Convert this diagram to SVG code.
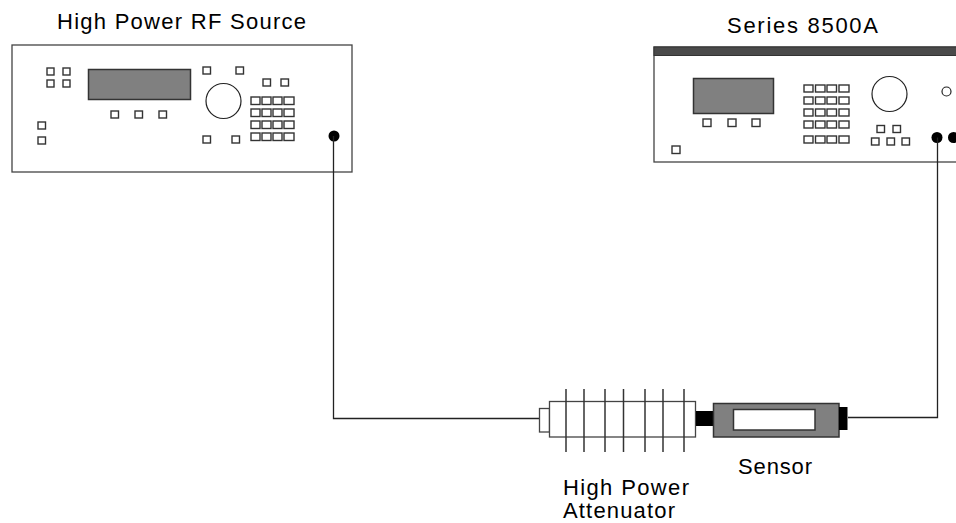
<svg xmlns="http://www.w3.org/2000/svg" width="956" height="523" viewBox="0 0 956 523">
<style>
.box{fill:#fff;stroke:#444;stroke-width:1.3}
.btn{fill:#fff;stroke:#333;stroke-width:1.4}
.scr{fill:#808080;stroke:#333;stroke-width:1.5}
.knob{fill:#fff;stroke:#222;stroke-width:1.2}
.dot{fill:#000}
.lbl{font-family:"Liberation Sans",Arial,sans-serif;font-size:22px;fill:#000}
.wire{fill:none;stroke:#222;stroke-width:1.3}
.fin{stroke:#333;stroke-width:1.5}
</style>
<g id="rf-source">
<text class="lbl" x="57" y="29" textLength="249" lengthAdjust="spacing">High Power RF Source</text>
<rect class="box" x="12" y="45" width="340" height="127"/>
<rect class="scr" x="88.5" y="69.5" width="102" height="30"/>
<rect class="btn" x="47" y="68" width="7" height="7"/><rect class="btn" x="63" y="68" width="7" height="7"/>
<rect class="btn" x="47" y="80" width="7" height="7"/><rect class="btn" x="63" y="80" width="7" height="7"/>
<rect class="btn" x="111" y="111" width="7.5" height="7"/><rect class="btn" x="135" y="111" width="7.5" height="7"/><rect class="btn" x="159" y="111" width="7.5" height="7"/>
<rect class="btn" x="38" y="122" width="7.5" height="7"/><rect class="btn" x="38" y="137" width="7.5" height="7"/>
<rect class="btn" x="203" y="67" width="7.5" height="7"/><rect class="btn" x="236" y="67" width="7.5" height="7"/>
<rect class="btn" x="203" y="136" width="7.5" height="7"/><rect class="btn" x="232" y="136" width="7.5" height="7"/>
<rect class="btn" x="263" y="79" width="7.5" height="7"/><rect class="btn" x="281" y="79" width="7.5" height="7"/>
<circle class="knob" cx="223.5" cy="101" r="17.5"/>
<g>
<rect class="btn" x="251" y="97" width="9" height="7.5"/><rect class="btn" x="262" y="97" width="9" height="7.5"/><rect class="btn" x="273" y="97" width="9" height="7.5"/><rect class="btn" x="284" y="97" width="10" height="7.5"/>
<rect class="btn" x="251" y="109" width="9" height="7.5"/><rect class="btn" x="262" y="109" width="9" height="7.5"/><rect class="btn" x="273" y="109" width="9" height="7.5"/><rect class="btn" x="284" y="109" width="10" height="7.5"/>
<rect class="btn" x="251" y="121" width="9" height="7.5"/><rect class="btn" x="262" y="121" width="9" height="7.5"/><rect class="btn" x="273" y="121" width="9" height="7.5"/><rect class="btn" x="284" y="121" width="10" height="7.5"/>
<rect class="btn" x="251" y="133" width="9" height="7.5"/><rect class="btn" x="262" y="133" width="9" height="7.5"/><rect class="btn" x="273" y="133" width="9" height="7.5"/><rect class="btn" x="284" y="133" width="10" height="7.5"/>
</g>
<circle class="dot" cx="334" cy="136" r="5.5"/>
</g>
<g id="meter-8500a">
<text class="lbl" x="727" y="33" textLength="151" lengthAdjust="spacing">Series 8500A</text>
<rect class="box" x="654" y="47" width="320" height="115"/>
<rect x="654" y="47" width="320" height="8.5" fill="#4a4a4a" stroke="#333" stroke-width="1"/>
<rect class="scr" x="693.5" y="78.5" width="80" height="35"/>
<rect class="btn" x="703" y="119" width="8" height="7.5"/><rect class="btn" x="728" y="119" width="8" height="7.5"/><rect class="btn" x="752" y="119" width="8" height="7.5"/>
<rect class="btn" x="672" y="146" width="8" height="7.5"/>
<g>
<rect class="btn" x="804" y="85" width="9" height="7"/><rect class="btn" x="815.5" y="85" width="9.5" height="7"/><rect class="btn" x="827" y="85" width="9.5" height="7"/><rect class="btn" x="839" y="85" width="10" height="7"/>
<rect class="btn" x="804" y="97" width="9" height="7"/><rect class="btn" x="815.5" y="97" width="9.5" height="7"/><rect class="btn" x="827" y="97" width="9.5" height="7"/><rect class="btn" x="839" y="97" width="10" height="7"/>
<rect class="btn" x="804" y="109" width="9" height="7"/><rect class="btn" x="815.5" y="109" width="9.5" height="7"/><rect class="btn" x="827" y="109" width="9.5" height="7"/><rect class="btn" x="839" y="109" width="10" height="7"/>
<rect class="btn" x="804" y="121" width="9" height="7"/><rect class="btn" x="815.5" y="121" width="9.5" height="7"/><rect class="btn" x="827" y="121" width="9.5" height="7"/><rect class="btn" x="839" y="121" width="10" height="7"/>
<rect class="btn" x="804" y="136" width="9" height="7"/><rect class="btn" x="815.5" y="136" width="9.5" height="7"/><rect class="btn" x="827" y="136" width="9.5" height="7"/><rect class="btn" x="839" y="136" width="10" height="7"/>
</g>
<circle class="knob" cx="889.5" cy="94" r="17.5"/>
<rect class="btn" x="877" y="125.5" width="7.5" height="7"/><rect class="btn" x="893" y="125.5" width="7.5" height="7"/>
<rect class="btn" x="871.5" y="138" width="7.5" height="7"/><rect class="btn" x="887" y="138" width="7.5" height="7"/><rect class="btn" x="902" y="138" width="7.5" height="7"/>
<circle class="knob" cx="946.5" cy="91.5" r="4.5"/>
<circle class="dot" cx="937" cy="137.5" r="5.5"/>
<circle class="dot" cx="953.5" cy="137.5" r="5.5"/>
</g>
<g id="connectors">
<polyline class="wire" points="333.5,136 333.5,418.5 539,418.5"/>
<polyline class="wire" points="848,417.5 937.5,417.5 937.5,137.5"/>
</g>
<g id="attenuator">
<rect class="box" x="539.5" y="408.5" width="10" height="23.5"/>
<rect class="box" x="549.5" y="401.5" width="146" height="35.5"/>
<line class="fin" x1="566" y1="389" x2="566" y2="452"/>
<line class="fin" x1="584" y1="389" x2="584" y2="452"/>
<line class="fin" x1="605" y1="389" x2="605" y2="452"/>
<line class="fin" x1="623.5" y1="389" x2="623.5" y2="452"/>
<line class="fin" x1="645" y1="389" x2="645" y2="452"/>
<line class="fin" x1="663" y1="389" x2="663" y2="452"/>
<line class="fin" x1="684" y1="389" x2="684" y2="452"/>
<text class="lbl" x="563" y="495" textLength="126" lengthAdjust="spacing">High Power</text>
<text class="lbl" x="563" y="518" textLength="112" lengthAdjust="spacing">Attenuator</text>
</g>
<g id="sensor">
<rect x="696" y="411" width="17.5" height="15" fill="#000"/>
<rect x="713.5" y="403.5" width="125.5" height="33.5" fill="#808080" stroke="#333" stroke-width="1.5"/>
<rect x="733.5" y="409.5" width="81.5" height="20.5" fill="#fff" stroke="#333" stroke-width="1.5"/>
<rect x="839" y="407" width="8.5" height="23" fill="#000"/>
<text class="lbl" x="738" y="474" textLength="74" lengthAdjust="spacing">Sensor</text>
</g>
</svg>
